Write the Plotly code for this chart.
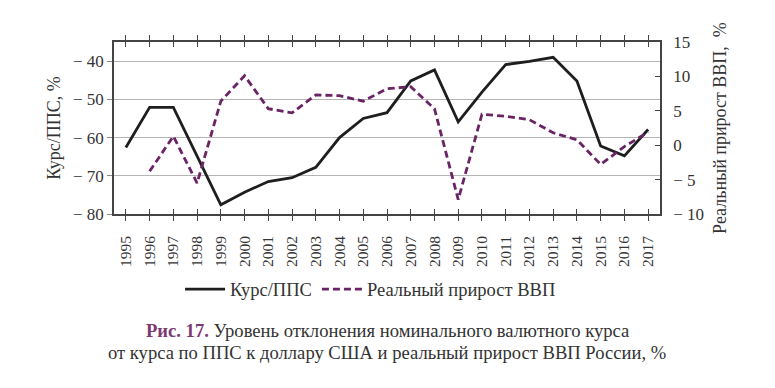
import plotly.graph_objects as go

years = [str(y) for y in range(1995, 2018)]
kurs_pps = [-62.6, -52.1, -52.1, -65.0, -77.6, -74.3, -71.5, -70.5, -67.8, -60.0,
            -55.0, -53.5, -45.2, -42.3, -55.9, -48.1, -40.9, -40.1, -39.0, -45.2,
            -62.2, -64.8, -57.9]
gdp_years = [str(y) for y in range(1996, 2018)]
gdp_growth = [-3.8, 1.3, -5.5, 6.4, 10.1, 5.3, 4.7, 7.3, 7.2, 6.4,
              8.2, 8.5, 5.3, -7.9, 4.5, 4.2, 3.7, 1.8, 0.8, -2.8, -0.2, 1.9]
left_ticks = [-80, -70, -60, -50, -40]
right_ticks = [-10, -5, 0, 5, 10, 15]

FONT = "Liberation Serif"
TXT = "#333333"

fig = go.Figure()
fig.add_trace(go.Scatter(x=years, y=kurs_pps, mode="lines", name="Курс/ППС",
                         line=dict(color="#1e1e1e", width=2.8)))
fig.add_trace(go.Scatter(x=gdp_years, y=gdp_growth, mode="lines", name="Реальный прирост ВВП",
                         line=dict(color="#6a2466", width=2.8, dash="7px,4px"), yaxis="y2"))

fig.update_layout(
    width=775, height=388,
    margin=dict(l=114, r=115, t=42, b=174, autoexpand=False),
    paper_bgcolor="white", plot_bgcolor="white",
    font=dict(family=FONT, color=TXT, size=15),
    showlegend=True,
    legend=dict(orientation="h", x=0.121, xanchor="left", y=-0.44, yanchor="middle",
                font=dict(size=18.5, family=FONT, color=TXT), itemwidth=40,
                tracegroupgap=0, bgcolor="rgba(0,0,0,0)"),
    xaxis=dict(type="category", categoryorder="array", categoryarray=years,
               range=[-0.5, 22.5], tickangle=-90, showgrid=False, automargin=False,
               showline=True, linecolor="#444", linewidth=1.5, mirror="allticks",
               ticks="inside", ticklen=5, tickcolor="#444", ticklabelstandoff=14,
               tickfont=dict(size=15.5, family=FONT, color=TXT)),
    yaxis=dict(range=[-80, -35], tickvals=left_ticks, automargin=False,
               ticktext=["− 80", "− 70", "− 60", "− 50", "− 40"],
               showgrid=True, gridcolor="#b5b5b5", gridwidth=1.2,
               showline=True, linecolor="#444", linewidth=1.5,
               ticks="outside", ticklen=5, tickcolor="#888", zeroline=False,
               tickfont=dict(size=17, family=FONT, color=TXT),
               title=dict(text="Курс/ППС, %", font=dict(size=18, family=FONT, color=TXT),
                          standoff=8)),
    yaxis2=dict(range=[-10, 15], tickvals=right_ticks, automargin=False,
                ticktext=["− 10", "− 5", "0", "5", "10", "15"],
                overlaying="y", side="right", showgrid=False, zeroline=False,
                showline=True, linecolor="#444", linewidth=1.5,
                ticks="inside", ticklen=5, tickcolor="#444", ticklabelstandoff=8,
                tickfont=dict(size=17, family=FONT, color=TXT),
                title=dict(text="Реальный прирост ВВП,  %",
                           font=dict(size=18, family=FONT, color=TXT), standoff=10)),
)

fig.add_annotation(xref="paper", yref="paper", x=0.5, y=-0.68, xanchor="center",
                   yanchor="middle", showarrow=False,
                   text="<b><span style='color:#7d3a70'>Рис. 17.</span></b> Уровень отклонения номинального валютного курса",
                   font=dict(size=18.6, family=FONT, color=TXT))
fig.add_annotation(xref="paper", yref="paper", x=0.5, y=-0.805, xanchor="center",
                   yanchor="middle", showarrow=False,
                   text="от курса по ППС к доллару США и реальный прирост ВВП России, %",
                   font=dict(size=18.6, family=FONT, color=TXT))

fig.write_html("out.html", config={"displayModeBar": False},
               post_script="document.body.style.margin='0';")
